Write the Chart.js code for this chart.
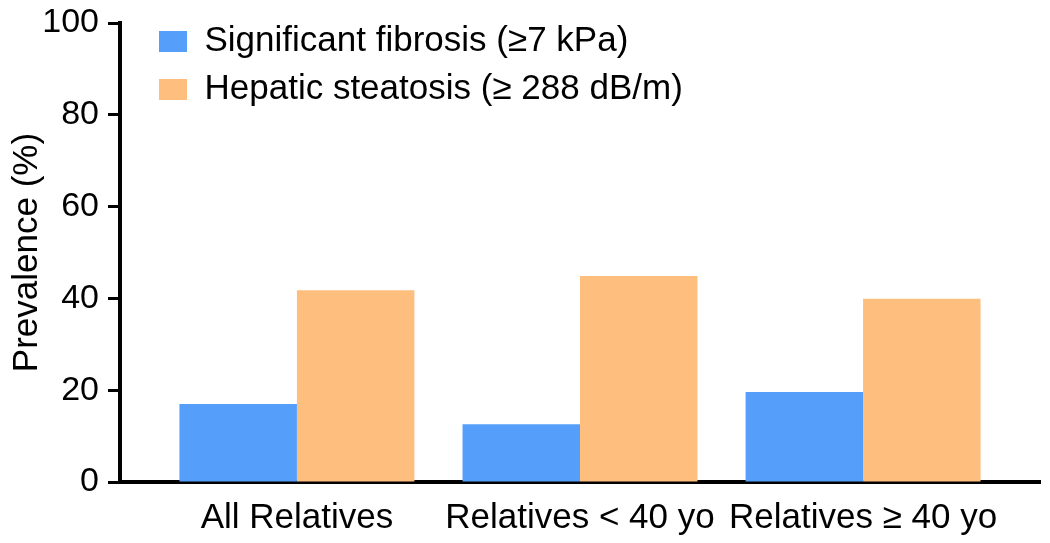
<!DOCTYPE html>
<html>
<head>
<meta charset="utf-8">
<script src="https://cdn.jsdelivr.net/npm/chart.js@4.4.1/dist/chart.umd.min.js"></script>
<style>
  body { margin: 0; background: #fff; }
  #wrap { width: 1050px; height: 543px; }
</style>
</head>
<body>
<div id="wrap"><canvas id="bar-chart"></canvas></div>
<script>
    // values (% prevalence)
    var categories = ['All Relatives', 'Relatives < 40 yo', 'Relatives \u2265 40 yo'];
    var fibrosis = [17.0, 12.6, 19.6];
    var steatosis = [41.8, 44.9, 39.9];
    var seriesNames = ['Significant fibrosis (\u22657 kPa)', 'Hepatic steatosis (\u2265 288 dB/m)'];
    var yTicks = [0, 20, 40, 60, 80, 100];

    var font = "'Liberation Sans', Arial, Helvetica, sans-serif";

    // linear x so the groups sit where the original put them
    function toPoints(values) {
        return values.map(function (v, i) { return { x: i, y: v }; });
    }

    // put the legend in the top-left corner of the plot
    var legendNudge = {
        id: 'legendNudge',
        afterLayout: function (chart) {
            chart.legend.left = chart.chartArea.left + 26;
            chart.legend.top = chart.chartArea.top - 12;
        }
    };

    var ctx = document.getElementById('bar-chart').getContext('2d');

    var config = {
        type: 'bar',
        data: {
            datasets: [{
                label: seriesNames[0],
                data: toPoints(fibrosis),
                backgroundColor: '#559FFA',
                borderWidth: 0
            }, {
                label: seriesNames[1],
                data: toPoints(steatosis),
                backgroundColor: '#FDBE7E',
                borderWidth: 0
            }]
        },
        options: {
            responsive: true,
            maintainAspectRatio: false,
            animation: false,
            categoryPercentage: 0.83,
            barPercentage: 1.0,
            layout: {
                padding: { top: 23, right: 10, bottom: 0, left: 0 }
            },
            scales: {
                x: {
                    type: 'linear',
                    offset: false,
                    min: -0.625,
                    max: 2.625,
                    grid: { display: false },
                    border: { display: true, color: '#000', width: 4 },
                    ticks: {
                        stepSize: 1,
                        includeBounds: false,
                        autoSkip: false,
                        maxRotation: 0,
                        minRotation: 0,
                        padding: 7,
                        color: '#000',
                        font: { family: font, size: 35 },
                        callback: function (value) {
                            return categories[value] !== undefined ? categories[value] : '';
                        }
                    },
                    afterFit: function (scale) { scale.height = 61; }
                },
                y: {
                    min: 0,
                    max: 100,
                    afterBuildTicks: function (scale) {
                        scale.ticks = yTicks.map(function (v) { return { value: v }; });
                    },
                    grid: {
                        drawOnChartArea: false,
                        drawTicks: true,
                        tickLength: 12,
                        tickWidth: 3,
                        tickColor: '#000'
                    },
                    border: { display: true, color: '#000', width: 4 },
                    ticks: {
                        padding: 9,
                        color: '#000',
                        font: { family: font, size: 34, lineHeight: 0.7 }
                    },
                    title: {
                        display: true,
                        text: 'Prevalence (%)',
                        color: '#000',
                        font: { family: font, size: 35 },
                        padding: { top: 6, bottom: 0 }
                    },
                    afterFit: function (scale) { scale.width = 120; }
                }
            },
            plugins: {
                legend: {
                    position: 'chartArea',
                    align: 'start',
                    labels: {
                        boxWidth: 28,
                        boxHeight: 21,
                        padding: 13,
                        color: '#000',
                        font: { family: font, size: 35 }
                    }
                },
                tooltip: { enabled: false }
            }
        },
        plugins: [legendNudge]
    };
    new Chart(ctx, config);
</script>
</body>
</html>
